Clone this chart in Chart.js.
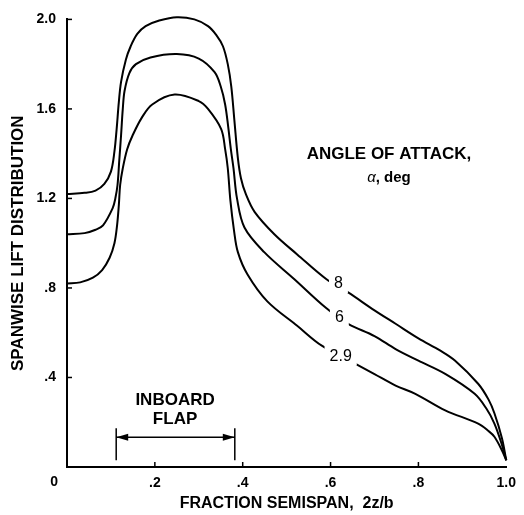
<!DOCTYPE html>
<html>
<head>
<meta charset="utf-8">
<script src="https://cdn.jsdelivr.net/npm/chart.js@4"></script>
<style>
  html, body { margin: 0; padding: 0; background: #fff; }
</style>
</head>
<body>
<canvas id="chart_lift" width="524" height="515"></canvas>
<script>
// spanwise lift distribution, one pair of arrays per angle of attack
const span8 = [0, 0.04, 0.065, 0.085, 0.10, 0.108, 0.113, 0.118, 0.123, 0.134, 0.145, 0.16, 0.179, 0.21, 0.25, 0.29, 0.321, 0.34, 0.355, 0.366, 0.374, 0.381, 0.389, 0.396, 0.407, 0.427, 0.472, 0.524, 0.59, 0.64, 0.70, 0.748, 0.80, 0.85, 0.883, 0.936, 0.96, 0.973, 0.99, 1.0];
const lift8 = [1.22, 1.225, 1.235, 1.265, 1.32, 1.41, 1.51, 1.63, 1.72, 1.82, 1.88, 1.935, 1.97, 1.995, 2.01, 2.0, 1.97, 1.93, 1.88, 1.80, 1.70, 1.55, 1.38, 1.29, 1.22, 1.14, 1.04, 0.95, 0.84, 0.78, 0.70, 0.64, 0.575, 0.52, 0.476, 0.372, 0.30, 0.24, 0.13, 0.03];

const span6 = [0, 0.04, 0.065, 0.082, 0.104, 0.11, 0.115, 0.119, 0.123, 0.127, 0.131, 0.142, 0.157, 0.19, 0.25, 0.30, 0.336, 0.35, 0.36, 0.367, 0.373, 0.379, 0.387, 0.404, 0.449, 0.517, 0.59, 0.64, 0.70, 0.748, 0.80, 0.861, 0.928, 0.955, 0.973, 0.99, 1.0];
const lift6 = [1.04, 1.045, 1.06, 1.08, 1.157, 1.20, 1.26, 1.37, 1.48, 1.60, 1.68, 1.76, 1.80, 1.83, 1.845, 1.825, 1.764, 1.70, 1.62, 1.52, 1.42, 1.335, 1.20, 1.07, 0.96, 0.84, 0.71, 0.64, 0.585, 0.527, 0.475, 0.416, 0.327, 0.26, 0.194, 0.10, 0.03];

const span29 = [0, 0.03, 0.059, 0.08, 0.097, 0.108, 0.114, 0.118, 0.121, 0.127, 0.137, 0.149, 0.17, 0.194, 0.245, 0.30, 0.321, 0.351, 0.36, 0.366, 0.372, 0.38, 0.389, 0.411, 0.456, 0.524, 0.58, 0.658, 0.70, 0.748, 0.793, 0.861, 0.936, 0.96, 0.973, 0.99, 1.0];
const lift29 = [0.82, 0.825, 0.846, 0.88, 0.935, 1.0, 1.08, 1.17, 1.26, 1.335, 1.42, 1.48, 1.56, 1.62, 1.664, 1.635, 1.60, 1.51, 1.42, 1.335, 1.19, 1.06, 0.96, 0.86, 0.74, 0.631, 0.542, 0.46, 0.415, 0.364, 0.327, 0.253, 0.194, 0.16, 0.135, 0.075, 0.03];

// curve tags written over gaps in the lines
const curveTags = ['8', '6', '2.9'];
const tagSpan = [0.618, 0.620, 0.623];
const tagLift = [0.822, 0.671, 0.498];

// inboard flap extent (fraction semispan)
const flapEdges = [0.112, 0.382];

const FONT = "'Liberation Sans', Arial, Helvetica, sans-serif";

const toPoints = (xs, ys) => xs.map((x, i) => ({ x: x, y: ys[i] }));

const curve = (label, xs, ys) => ({
  label: label,
  data: toPoints(xs, ys),
  borderColor: '#000',
  borderWidth: 2,
  pointRadius: 0,
  fill: false,
  clip: false,
  tension: 0.35
});

const trimZero = v => {
  if (v === 0) return '';
  const s = v.toFixed(1);
  return v < 1 ? s.replace(/^0/, '') : s;
};

const extras = {
  id: 'extras',
  afterDatasetsDraw(chart) {
    const { ctx, scales: { x, y } } = chart;
    ctx.save();
    ctx.strokeStyle = '#000';
    ctx.fillStyle = '#000';
    ctx.lineWidth = 1.5;

    // short tick marks pointing into the plot
    y.ticks.forEach(t => {
      if (t.value === 0) return;
      const py = y.getPixelForValue(t.value);
      ctx.beginPath();
      ctx.moveTo(x.left, py);
      ctx.lineTo(x.left + 5, py);
      ctx.stroke();
    });
    x.ticks.forEach(t => {
      if (t.value === 0 || t.value === 1) return;
      const px = x.getPixelForValue(t.value);
      ctx.beginPath();
      ctx.moveTo(px, y.bottom);
      ctx.lineTo(px, y.bottom - 5);
      ctx.stroke();
    });

    // shared origin label
    ctx.font = 'bold 14px ' + FONT;
    ctx.textAlign = 'right';
    ctx.textBaseline = 'middle';
    ctx.fillText('0', x.left - 9, y.bottom + 15);

    // curve tags
    ctx.font = '16px ' + FONT;
    ctx.textAlign = 'center';
    curveTags.forEach((t, i) => {
      const px = x.getPixelForValue(tagSpan[i]);
      const py = y.getPixelForValue(tagLift[i]);
      const w = ctx.measureText(t).width;
      ctx.fillStyle = '#fff';
      ctx.fillRect(px - w / 2 - 5, py - 10, w + 10, 20);
      ctx.fillStyle = '#000';
      ctx.fillText(t, px, py + 1);
    });

    // angle of attack heading
    const hx = x.getPixelForValue(0.733);
    ctx.font = 'bold 17px ' + FONT;
    ctx.fillText('ANGLE OF ATTACK,', hx, y.getPixelForValue(1.396));
    ctx.font = 'italic 15px ' + FONT;
    const aw = ctx.measureText('\u03b1').width;
    ctx.font = 'bold 15px ' + FONT;
    const dw = ctx.measureText(', deg').width;
    const ay = y.getPixelForValue(1.293);
    const ax = hx - (aw + dw) / 2;
    ctx.textAlign = 'left';
    ctx.font = 'italic 15px ' + FONT;
    ctx.fillText('\u03b1', ax, ay);
    ctx.font = 'bold 15px ' + FONT;
    ctx.fillText(', deg', ax + aw, ay);

    // inboard flap span marker
    const fl = x.getPixelForValue(flapEdges[0]);
    const fr = x.getPixelForValue(flapEdges[1]);
    const fTop = y.getPixelForValue(0.173);
    const fBot = y.getPixelForValue(0.03);
    const fy = y.getPixelForValue(0.133);
    ctx.lineWidth = 1.5;
    ctx.beginPath();
    ctx.moveTo(fl, fTop); ctx.lineTo(fl, fBot);
    ctx.moveTo(fr, fTop); ctx.lineTo(fr, fBot);
    ctx.moveTo(fl, fy); ctx.lineTo(fr, fy);
    ctx.stroke();
    [[fl, 1], [fr, -1]].forEach(([ex, dir]) => {
      ctx.beginPath();
      ctx.moveTo(ex, fy);
      ctx.lineTo(ex + dir * 12, fy - 3.5);
      ctx.lineTo(ex + dir * 12, fy + 3.5);
      ctx.closePath();
      ctx.fill();
    });
    const mx = x.getPixelForValue(0.246);
    ctx.textAlign = 'center';
    ctx.font = 'bold 17px ' + FONT;
    ctx.fillText('INBOARD', mx, y.getPixelForValue(0.298));
    ctx.fillText('FLAP', mx, y.getPixelForValue(0.213));
    ctx.restore();
  }
};

new Chart(document.getElementById('chart_lift'), {
  type: 'line',
  plugins: [extras],
  data: {
    datasets: [
      curve('8', span8, lift8),
      curve('6', span6, lift6),
      curve('2.9', span29, lift29)
    ]
  },
  options: {
    responsive: false,
    animation: false,
    layout: { padding: { top: 17, right: 12, left: 0, bottom: 0 } },
    plugins: { legend: { display: false }, tooltip: { enabled: false } },
    scales: {
      x: {
        type: 'linear',
        min: 0, max: 1,
        grid: { display: false, drawTicks: false },
        border: { color: '#000', width: 2 },
        ticks: {
          stepSize: 0.2,
          padding: 8,
          color: '#000',
          font: { family: FONT, size: 14, weight: 'bold' },
          callback: v => trimZero(v)
        },
        title: {
          display: true,
          text: 'FRACTION SEMISPAN,  2z/b',
          color: '#000',
          font: { family: FONT, size: 16, weight: 'bold' },
          padding: { top: 0, bottom: 2 }
        },
        afterFit: s => { s.height = 48; }
      },
      y: {
        min: 0, max: 2,
        grid: { display: false, drawTicks: false },
        border: { color: '#000', width: 2 },
        ticks: {
          stepSize: 0.4,
          padding: 11,
          color: '#000',
          font: { family: FONT, size: 14, weight: 'bold' },
          callback: v => trimZero(v)
        },
        title: {
          display: true,
          text: 'SPANWISE LIFT DISTRIBUTION',
          color: '#000',
          font: { family: FONT, size: 17, weight: 'bold' },
          padding: { top: 8, bottom: 0 }
        },
        afterFit: s => { s.width = 67; }
      }
    }
  }
});
</script>
</body>
</html>
